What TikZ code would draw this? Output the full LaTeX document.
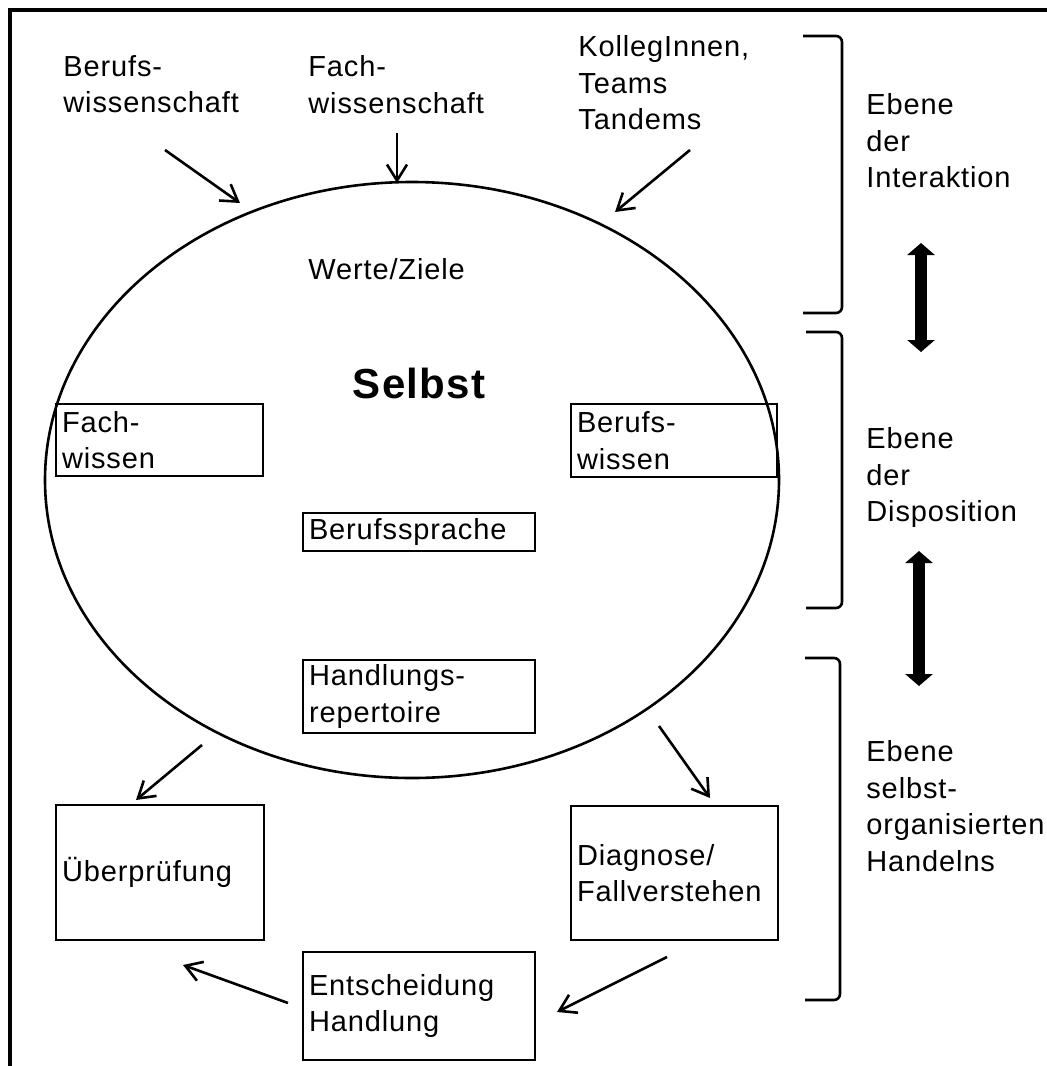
\documentclass[tikz,border=0pt]{standalone}
\usepackage{fontspec}
\setmainfont{Liberation Sans}[LetterSpace=3]
\usetikzlibrary{arrows.meta,shapes.geometric}

\begin{document}
\begin{tikzpicture}[x=0.5pt,y=-0.5pt,
  every node/.style={font=\fontsize{14.5}{18.3}\selectfont},
  box/.style={draw, line width=1.3pt, align=left, inner xsep=3pt, inner ysep=0pt},
  txt/.style={align=left, inner sep=0pt, anchor=north west},
  flow/.style={line width=1.3pt, -{Straight Barb[length=8pt,width=10pt]}},
  bracket/.style={line width=1.3pt, rounded corners=3pt},
  levelarrow/.style={line width=6pt, {Triangle[length=6pt,width=13.5pt]}-{Triangle[length=6pt,width=13.5pt]}}
]
\useasboundingbox (0,0) rectangle (1047,1066);

% frame
\draw[line width=1.6pt] (10,1070) -- (10,10) -- (1050,10);

% the self
\node[ellipse, draw, line width=1.3pt, minimum width=367pt, minimum height=298pt, inner sep=0pt] (self) at (412,480) {};
\node[txt] (werte) at (308,258) {Werte/Ziele};
\node[font=\fontsize{21}{25}\selectfont\bfseries] (selbst) at (419,383) {Selbst};

% boxes inside the ellipse
\node[box, minimum width=103.5pt, text width=97.5pt, minimum height=36pt] (fach) at (159.5,440) {Fach-\\wissen};
\node[box, minimum width=103pt, text width=97pt, minimum height=36.5pt] (beruf) at (674,440.5) {Berufs-\\wissen};
\node[box, minimum width=116pt, text width=110pt, minimum height=19pt] (sprache) at (419,532) {Berufssprache};
\node[box, minimum width=116pt, text width=110pt, minimum height=36.5pt] (repertoire) at (419,696.5) {Handlungs-\\repertoire};

% action cycle
\node[box, minimum width=104pt, text width=98pt, minimum height=67.5pt] (pruefung) at (160,872.5) {Überprüfung};
\node[box, minimum width=103.5pt, text width=97.5pt, minimum height=67pt] (diagnose) at (674.5,873) {Diagnose/\\Fallverstehen};
\node[box, minimum width=116pt, text width=110pt, minimum height=54pt] (entscheidung) at (419,1006) {Entscheidung\\Handlung};

% sources above the ellipse
\node[txt] (berufswiss) at (63,55) {Berufs-\\wissenschaft};
\node[txt] (fachwiss) at (308,55) {Fach-\\wissenschaft};
\node[txt] (kollegen) at (578,35) {KollegInnen,\\Teams\\Tandems};

% arrow end points
\coordinate (a1s) at (165,150);  \coordinate (a1e) at (240,203);
\coordinate (a2s) at (397,133);  \coordinate (a2e) at (397,183);
\coordinate (a3s) at (690,150);  \coordinate (a3e) at (615,212);
\coordinate (a4s) at (202,745);  \coordinate (a4e) at (136,800);
\coordinate (a5s) at (659,726);  \coordinate (a5e) at (710,798);
\coordinate (a6s) at (667,957);  \coordinate (a6e) at (557,1012);
\coordinate (a7s) at (288,1003); \coordinate (a7e) at (183,965);

\draw[flow] (a1s) -- (a1e);
\draw[flow] (a2s) -- (a2e);
\draw[flow] (a3s) -- (a3e);
\draw[flow] (a4s) -- (a4e);
\draw[flow] (a5s) -- (a5e);
\draw[flow] (a6s) -- (a6e);
\draw[flow] (a7s) -- (a7e);

% levels on the right
\draw[bracket] (803,36) -- (842,36) -- (842,313) -- (803,313);
\draw[bracket] (806,332) -- (842,332) -- (842,608) -- (806,608);
\draw[bracket] (805,658) -- (840,658) -- (840,1000) -- (805,1000);

\node[txt] (ebene1) at (866,93) {Ebene\\der\\Interaktion};
\node[txt] (ebene2) at (866,427) {Ebene\\der\\Disposition};
\node[txt] (ebene3) at (866,740) {Ebene\\selbst-\\organisierten\\Handelns};

\coordinate (d1t) at (921,243); \coordinate (d1b) at (921,352);
\coordinate (d2t) at (919,551); \coordinate (d2b) at (919,686);
\draw[levelarrow] (d1t) -- (d1b);
\draw[levelarrow] (d2t) -- (d2b);
\end{tikzpicture}
\end{document}
